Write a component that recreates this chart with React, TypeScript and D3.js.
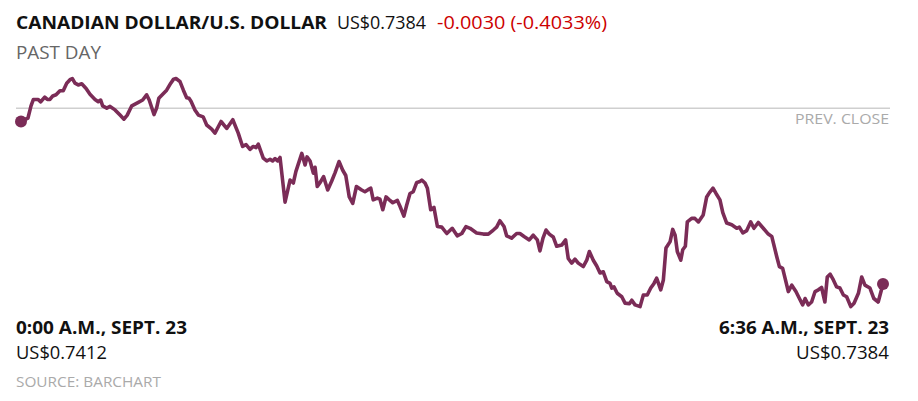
import React from "react";
import * as d3 from "d3";

const title = "CANADIAN DOLLAR/U.S. DOLLAR";
const lastPriceLabel = "US$0.7384";
const changeLabel = "-0.0030 (-0.4033%)";
const periodLabel = "PAST DAY";
const prevCloseLabel = "PREV. CLOSE";
const startTimeLabel = "0:00 A.M., SEPT. 23";
const endTimeLabel = "6:36 A.M., SEPT. 23";
const startPriceLabel = "US$0.7412";
const endPriceLabel = "US$0.7384";
const sourceLabel = "SOURCE: BARCHART";

const prevClose = 0.74143;
const timeDomain = [0, 396];
const priceDomain = [0.7384, 0.7412];

// minutes after midnight
const minutes = [
  0, 3.2, 4.6, 5.7, 7.8, 9.05, 10.9, 12.1, 13.3, 14.6, 16.1, 17.9, 19.4, 21.0, 22.5, 23.6, 24.8, 26.3, 27.9, 29.9,
  31.7, 34.0, 35.5, 36.6, 37.5, 39.4, 40.9, 43.2, 45.5, 47.3, 48.8, 50.9, 52.4, 53.9, 55.9, 57.7, 58.9, 61.1, 62.3, 63.3,
  65.1, 66.9, 68.8, 70.1, 71.2, 73.0, 74.6, 76.1, 77.2, 78.1, 79.9, 81.5, 83.7, 85.3, 87.6, 89.1, 91.9, 94.5, 97.3, 99.8,
  101.8, 103.4, 105.2, 106.7, 108.0, 109.0, 111.3, 112.9, 114.4, 115.6, 116.7, 117.9, 119.0, 119.9, 121.3, 123.6, 125.1, 126.3, 129.0, 130.5,
  131.4, 132.8, 134.3, 135.1, 136.1, 137.6, 139.0, 140.9, 142.7, 144.3, 146.1, 147.8, 149.2, 150.8, 152.4, 154.1, 156.5, 158.0, 159.6, 160.7,
  161.8, 163.7, 164.9, 166.2, 167.7, 169.2, 170.8, 172.9, 174.1, 175.9, 177.2, 178.7, 180.2, 181.8, 183.0, 184.1, 185.6, 186.7, 188.2, 189.7,
  191.3, 193.3, 195.6, 198.1, 200.4, 202.5, 204.4, 206.3, 209.3, 212.4, 214.7, 217.0, 218.5, 220.0, 221.9, 223.1, 225.4, 227.7, 229.2, 231.1,
  233.5, 235.3, 237.2, 238.4, 239.8, 241.2, 242.7, 244.5, 246.1, 248.4, 250.2, 251.4, 253.0, 254.5, 256.0, 258.3, 259.9, 261.1, 262.9, 264.5,
  266.0, 267.5, 269.1, 270.6, 271.4, 272.4, 273.9, 276.0, 277.5, 279.5, 280.6, 282.1, 284.4, 285.9, 287.7, 289.3, 290.8, 292.0, 293.9, 295.1,
  296.3, 298.2, 299.4, 300.5, 301.5, 303.1, 304.0, 305.2, 306.1, 308.1, 309.6, 311.2, 313.4, 315.0, 316.2, 317.9, 319.3, 321.1, 322.4, 324.2,
  326.5, 328.8, 330.0, 331.6, 333.4, 335.2, 336.7, 338.7, 341.0, 343.3, 344.9, 347.2, 348.4, 349.9, 351.0, 352.5, 354.1, 356.0, 357.6, 359.1,
  360.2, 361.7, 363.2, 364.8, 366.3, 367.8, 369.3, 370.4, 371.7, 373.2, 374.7, 376.2, 377.8, 379.3, 381.2, 382.7, 384.7, 386.2, 387.7, 390.0,
  391.8, 393.8, 396,
];

const prices = [
  0.7412, 0.74126, 0.74147, 0.74158, 0.74158, 0.74154, 0.74162, 0.74158, 0.74158, 0.74164, 0.74166, 0.74173, 0.74173, 0.74186, 0.74192, 0.74194, 0.74186, 0.74183, 0.74185, 0.74177,
  0.74167, 0.74158, 0.74154, 0.74157, 0.74147, 0.74143, 0.74146, 0.7414, 0.74131, 0.74124, 0.74131, 0.74147, 0.7415, 0.74153, 0.74157, 0.74166, 0.74157, 0.74132, 0.74143, 0.7416,
  0.74167, 0.74174, 0.74186, 0.74193, 0.74194, 0.74189, 0.74174, 0.74161, 0.7416, 0.74155, 0.7414, 0.74131, 0.74128, 0.74114, 0.74107, 0.741, 0.7412, 0.74108, 0.74123, 0.741,
  0.74077, 0.7408, 0.74072, 0.74077, 0.74075, 0.74081, 0.74057, 0.74052, 0.74055, 0.74052, 0.74056, 0.74052, 0.74058, 0.74028, 0.73981, 0.74019, 0.74014, 0.74034, 0.74065, 0.74045,
  0.74059, 0.74052, 0.74031, 0.74041, 0.74008, 0.74016, 0.74025, 0.74002, 0.74017, 0.74032, 0.74051, 0.74036, 0.74027, 0.7399, 0.73979, 0.74008, 0.74002, 0.73999, 0.74003, 0.74005,
  0.73985, 0.73988, 0.73986, 0.73968, 0.7399, 0.73985, 0.7398, 0.73984, 0.73974, 0.73957, 0.73976, 0.73996, 0.73999, 0.74015, 0.74016, 0.74019, 0.74014, 0.74005, 0.73968, 0.73972,
  0.73939, 0.73938, 0.73927, 0.73936, 0.73923, 0.73927, 0.73939, 0.73936, 0.73928, 0.73926, 0.73926, 0.73933, 0.73938, 0.73949, 0.73939, 0.73923, 0.73919, 0.73927, 0.73927, 0.73922,
  0.73916, 0.73924, 0.73916, 0.73897, 0.73919, 0.73933, 0.73926, 0.73921, 0.73905, 0.73907, 0.73916, 0.73884, 0.73876, 0.73883, 0.73876, 0.7387, 0.73881, 0.73896, 0.73881, 0.73871,
  0.73859, 0.73861, 0.73844, 0.73841, 0.73833, 0.73835, 0.73824, 0.73818, 0.73807, 0.73806, 0.73812, 0.73804, 0.73801, 0.73821, 0.73821, 0.73833, 0.73841, 0.7385, 0.7383, 0.73847,
  0.73902, 0.73913, 0.73934, 0.73924, 0.73896, 0.73881, 0.73899, 0.73905, 0.73947, 0.73953, 0.73953, 0.73947, 0.73959, 0.7399, 0.73997, 0.74005, 0.73996, 0.73985, 0.73963, 0.73945,
  0.73942, 0.73936, 0.73938, 0.73928, 0.73932, 0.73947, 0.73936, 0.73946, 0.73936, 0.73926, 0.73922, 0.73887, 0.7387, 0.73867, 0.7385, 0.73827, 0.73838, 0.73827, 0.73815, 0.73804,
  0.73815, 0.73804, 0.73809, 0.73827, 0.7383, 0.73834, 0.73809, 0.73852, 0.73857, 0.73847, 0.73835, 0.73833, 0.73821, 0.73818, 0.73801, 0.73807, 0.73824, 0.73852, 0.73838, 0.73833,
  0.73815, 0.73809, 0.7384,
];

const LINE = "#7b2c57";
const FONT = "'Open Sans', 'Noto Sans', sans-serif";

export default function App() {
  const W = 918;
  const H = 401;
  const x = d3.scaleLinear().domain(timeDomain).range([21, 883]);
  const y = d3.scaleLinear().domain(priceDomain).range([284, 121.5]);
  const data = minutes.map((m, i) => ({ m, p: prices[i] }));
  const line = d3
    .line<{ m: number; p: number }>()
    .x((d) => x(d.m))
    .y((d) => y(d.p))
    .curve(d3.curveLinear);
  const first = data[0];
  const last = data[data.length - 1];
  const fit = { lengthAdjust: "spacingAndGlyphs" as const };

  return (
    <svg
      width={W}
      height={H}
      style={{ position: "absolute", left: 0, top: 0, background: "#fff" }}
      fontFamily={FONT}
    >
      <text x={16} y={29} fontSize={18.5} fontWeight={700} fill="#111" textLength={311} {...fit}>
        {title}
      </text>
      <text x={337} y={29} fontSize={18} fill="#111" textLength={89} {...fit}>{lastPriceLabel}</text>
      <text x={437} y={29} fontSize={18} fill="#cc0000" textLength={170} {...fit}>{changeLabel}</text>
      <text x={16} y={59} fontSize={18} fill="#666" textLength={85} {...fit}>{periodLabel}</text>

      <line x1={16} x2={890} y1={y(prevClose)} y2={y(prevClose)} stroke="#cfcfcf" strokeWidth={1.5} />
      <text x={795} y={124} fontSize={14} fill="#aaa" textLength={94} {...fit}>
        {prevCloseLabel}
      </text>

      <path d={line(data) || ""} fill="none" stroke={LINE} strokeWidth={3.6} strokeLinejoin="round" strokeLinecap="round" />
      <circle cx={x(first.m)} cy={y(first.p)} r={6} fill={LINE} />
      <circle cx={x(last.m)} cy={y(last.p)} r={6} fill={LINE} />

      <text x={16} y={334} fontSize={18.5} fontWeight={700} fill="#111" textLength={171} {...fit}>{startTimeLabel}</text>
      <text x={16} y={359} fontSize={18} fill="#111" textLength={91} {...fit}>{startPriceLabel}</text>
      <text x={16} y={387} fontSize={14} fill="#aaa" textLength={145} {...fit}>{sourceLabel}</text>

      <text x={719} y={334} fontSize={18.5} fontWeight={700} fill="#111" textLength={170} {...fit}>{endTimeLabel}</text>
      <text x={796} y={359} fontSize={18} fill="#111" textLength={93} {...fit}>{endPriceLabel}</text>
    </svg>
  );
}
